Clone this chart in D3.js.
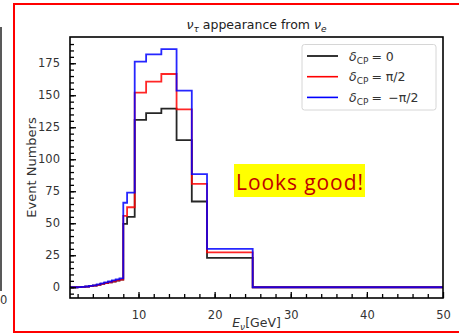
<!DOCTYPE html>
<html>
<head>
<meta charset="utf-8">
<script src="https://cdn.jsdelivr.net/npm/d3@7"></script>
<style>
  body { margin: 0; background: #fff; }
  svg { display: block; font-family: "DejaVu Sans", sans-serif; }
</style>
</head>
<body>
<svg id="chart" width="459" height="334"></svg>
<script>
// bin edges in GeV (fine bins at low energy, wide bins above)
var binEdges = [1, 1.5, 2, 2.5, 3, 3.5, 4, 4.5, 5, 5.5, 6, 6.5, 7, 7.5, 8,
                8.5, 9.5, 11, 13, 15, 17, 19, 25, 50];

// event counts per bin
var dcp0   = [0, 0, 0.1, 0.3, 0.5, 0.9, 1.3, 1.9, 2.6, 3.2, 3.8, 4.5, 5.2, 5.9,
              49.5, 55, 130.7, 136, 139.5, 115, 67, 23, 0];
var dcpPi2 = [0, 0, 0.1, 0.3, 0.5, 0.9, 1.3, 1.9, 2.6, 3.2, 3.9, 4.6, 5.3, 6.0,
              55.7, 62.5, 152, 160.6, 166.6, 139, 80.7, 27.3, 0];
var dcpMinusPi2 = [0, 0, 0.1, 0.3, 0.6, 1.0, 1.5, 2.3, 3.1, 3.8, 4.5, 5.3, 6.1, 7.0,
              66, 74, 176.2, 182, 186, 153.6, 88.3, 30, 0];

var seriesColors = ["#000000", "#ff0000", "#0000ff"];
var legendLabels = ["= 0", "= \u03c0/2", "= \u2009\u2212\u03c0/2"];

var xTicks = [10, 20, 30, 40, 50];
var yTicks = [0, 25, 50, 75, 100, 125, 150, 175];

var svg = d3.select("#chart");

// plot box (don't call it "top", that's window.top)
var plotLeft = 70, plotRight = 443, plotTop = 37, plotBottom = 298;

var x = d3.scaleLinear().domain([1, 50]).range([plotLeft, plotRight]);
var y = d3.scaleLinear().domain([-8.4, 195.5]).range([plotBottom, plotTop]);

// red highlight frame and leftover piece of the neighbouring plot
svg.append("rect")
    .attr("x", 14).attr("y", 4)
    .attr("width", 470).attr("height", 328)
    .attr("fill", "none")
    .attr("stroke", "#ff0000")
    .attr("stroke-width", 2);

svg.append("line")
    .attr("x1", 1).attr("x2", 1)
    .attr("y1", 27).attr("y2", 291)
    .attr("stroke", "#222").attr("stroke-width", 1.5);

svg.append("text")
    .attr("x", 0).attr("y", 304)
    .attr("font-size", 11.5)
    .attr("fill", "#333")
    .text("0");

// histogram steps
function stepPoints(vals) {
    var pts = vals.map(function(v, i) { return [binEdges[i], v]; });
    pts.push([binEdges[binEdges.length - 1], vals[vals.length - 1]]);
    return pts;
}

var stepLine = d3.line()
    .x(function(d) { return x(d[0]); })
    .y(function(d) { return y(d[1]); })
    .curve(d3.curveStepAfter);

var allSeries = [dcp0, dcpPi2, dcpMinusPi2];

svg.append("g")
    .selectAll("path")
    .data(allSeries)
    .join("path")
    .attr("d", function(d) { return stepLine(stepPoints(d)); })
    .attr("fill", "none")
    .attr("stroke", function(d, i) { return seriesColors[i]; })
    .attr("stroke-width", 1.8)
    .attr("stroke-opacity", 0.85);

// axes, ticks pointing inward
var xAxis = svg.append("g")
    .attr("transform", "translate(0," + plotBottom + ")")
    .call(d3.axisBottom(x).tickValues(d3.range(2, 50, 2)).tickSize(-4).tickFormat(""));
xAxis.append("g")
    .call(d3.axisBottom(x).tickValues(xTicks).tickSize(-6).tickPadding(13).tickFormat(d3.format("d")));

var yAxis = svg.append("g")
    .attr("transform", "translate(" + plotLeft + ",0)")
    .call(d3.axisLeft(y).tickValues(d3.range(-5, 195, 5)).tickSize(-4).tickFormat(""));
yAxis.append("g")
    .call(d3.axisLeft(y).tickValues(yTicks).tickSize(-6).tickPadding(10).tickFormat(d3.format("d")));

svg.selectAll(".domain").remove();
svg.selectAll(".tick line").attr("stroke", "#000").attr("stroke-width", 1.3);
svg.selectAll(".tick text")
    .attr("font-family", "DejaVu Sans")
    .attr("font-size", 11.5)
    .attr("fill", "#333");

// frame of the plot
svg.append("rect")
    .attr("x", plotLeft).attr("y", plotTop)
    .attr("width", plotRight - plotLeft).attr("height", plotBottom - plotTop)
    .attr("fill", "none")
    .attr("stroke", "#000")
    .attr("stroke-width", 1.6);

// title
var title = svg.append("text")
    .attr("x", (plotLeft + plotRight) / 2).attr("y", 29)
    .attr("text-anchor", "middle")
    .attr("font-size", 12.5)
    .attr("fill", "#222");
title.append("tspan").attr("font-style", "italic").text("\u03bd");
title.append("tspan").attr("font-style", "italic").attr("font-size", 9).attr("dy", 3).text("\u03c4");
title.append("tspan").attr("dy", -3).text(" appearance from ");
title.append("tspan").attr("font-style", "italic").text("\u03bd");
title.append("tspan").attr("font-style", "italic").attr("font-size", 9).attr("dy", 3).text("e");

// axis labels
var xLabel = svg.append("text")
    .attr("x", (plotLeft + plotRight) / 2).attr("y", 327)
    .attr("text-anchor", "middle")
    .attr("font-size", 12.5)
    .attr("fill", "#333");
xLabel.append("tspan").attr("font-style", "italic").text("E");
xLabel.append("tspan").attr("font-style", "italic").attr("font-size", 9).attr("dy", 3).text("\u03bd");
xLabel.append("tspan").attr("dy", -3).text("[GeV]");

svg.append("text")
    .attr("transform", "translate(36," + ((plotTop + plotBottom) / 2) + ") rotate(-90)")
    .attr("text-anchor", "middle")
    .attr("font-size", 13)
    .attr("fill", "#333")
    .text("Event Numbers");

// legend
var legend = svg.append("g");
legend.append("rect")
    .attr("x", 302).attr("y", 44.5)
    .attr("width", 134).attr("height", 65.5)
    .attr("rx", 2.5)
    .attr("fill", "#fff")
    .attr("stroke", "#d6d6d6")
    .attr("stroke-width", 1);

var legendRows = legend.selectAll("g.row")
    .data(legendLabels)
    .join("g")
    .attr("class", "row")
    .attr("transform", function(d, i) { return "translate(0," + (56 + i * 20.7) + ")"; });

legendRows.append("line")
    .attr("x1", 307).attr("x2", 338)
    .attr("stroke", function(d, i) { return seriesColors[i]; })
    .attr("stroke-width", 1.6);

var legendText = legendRows.append("text")
    .attr("x", 349).attr("y", 4.5)
    .attr("font-size", 12.5)
    .attr("fill", "#333");
legendText.append("tspan").attr("font-style", "italic").text("\u03b4");
legendText.append("tspan").attr("font-size", 9).attr("dy", 3).text("CP");
legendText.append("tspan").attr("dy", -3).attr("dx", 3).text(function(d) { return d; });

// annotation
svg.append("rect")
    .attr("x", 234).attr("y", 164)
    .attr("width", 131).attr("height", 33)
    .attr("fill", "#ffff00");

svg.append("text")
    .attr("x", 236).attr("y", 190)
    .attr("font-family", "Open Sans, sans-serif")
    .attr("font-size", 21)
    .attr("fill", "#c00000")
    .attr("textLength", 127)
    .text("Looks good!");
</script>
</body>
</html>
